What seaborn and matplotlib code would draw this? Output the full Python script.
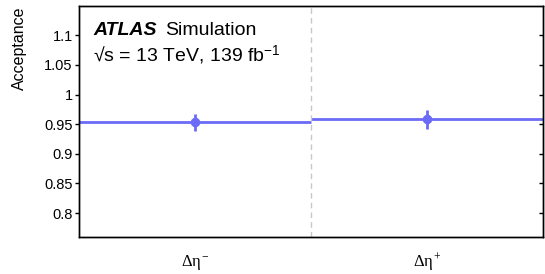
import matplotlib
matplotlib.use("Agg")
import matplotlib.pyplot as plt
import seaborn as sns

# bins and acceptance values
bin_edges = [0, 1, 2]
bin_labels = [r"$\Delta\eta^{-}$", r"$\Delta\eta^{+}$"]
acceptance = [0.953, 0.9585]
acc_err = [0.015, 0.016]
yticks = [0.8, 0.85, 0.9, 0.95, 1.0, 1.05, 1.1]
ytick_labels = ["0.8", "0.85", "0.9", "0.95", "1", "1.05", "1.1"]

sns.set_style("ticks")
plt.rcParams['font.family'] = ['Liberation Sans', 'DejaVu Sans']
plt.rcParams['text.color'] = 'black'
plt.rcParams['mathtext.fontset'] = 'custom'
plt.rcParams['mathtext.rm'] = 'Liberation Serif'
plt.rcParams['mathtext.it'] = 'Liberation Serif'
plt.rcParams['mathtext.sf'] = 'Liberation Sans'

fig = plt.figure(figsize=(5.45, 2.74), dpi=100)
ax = fig.add_axes([0.145, 0.136, 0.8515, 0.843])

col = "#6b6bf8"
centers = [(bin_edges[i] + bin_edges[i + 1]) / 2 for i in range(len(acceptance))]

ax.hlines(acceptance, bin_edges[:-1], bin_edges[1:], color=col, lw=2)
ax.errorbar(centers, acceptance, yerr=acc_err, fmt="none", ecolor=col, elinewidth=2)
sns.scatterplot(x=centers, y=acceptance, ax=ax, color=col, s=40, edgecolor=col, zorder=5)

# dashed divider between the bins
for e in bin_edges[1:-1]:
    ax.axvline(e, color="#c8c8c8", ls=(0, (4, 3)), lw=1)

ax.set_xlim(bin_edges[0], bin_edges[-1])
ax.set_ylim(0.76, 1.15)
ax.set_yticks(yticks)
ax.set_yticklabels(ytick_labels, fontsize=10.5, color='black')
ax.tick_params(axis='y', length=3, width=1, color='black', pad=1.5)
ax.set_xticks([])

# inward ticks on the right-hand side
tw = ax.twinx()
tw.set_ylim(ax.get_ylim())
tw.set_yticks(yticks)
tw.set_yticklabels([])
tw.tick_params(axis='y', direction='in', length=3, width=1, color='black', right=True)

for c, lab in zip(centers, bin_labels):
    ax.text(c, -0.11, lab, transform=ax.get_xaxis_transform(), ha='center', va='center',
            fontsize=12)

for a in (ax, tw):
    for sp in a.spines.values():
        sp.set_linewidth(1.0)
        sp.set_color('black')

fig.text(0.036, 0.825, "Acceptance", rotation=90, ha='center', va='center', fontsize=11.5)

ax.text(0.03, 0.873, "ATLAS", transform=ax.transAxes, fontsize=14, fontweight='bold',
        fontstyle='italic', va='baseline')
ax.text(0.185, 0.873, "Simulation", transform=ax.transAxes, fontsize=14, va='baseline')
ax.text(0.03, 0.76, "\u221as = 13 TeV, 139 fb$^{\\mathsf{-1}}$",
        transform=ax.transAxes, fontsize=14, va='baseline')

fig.savefig("out.png", dpi=100)
